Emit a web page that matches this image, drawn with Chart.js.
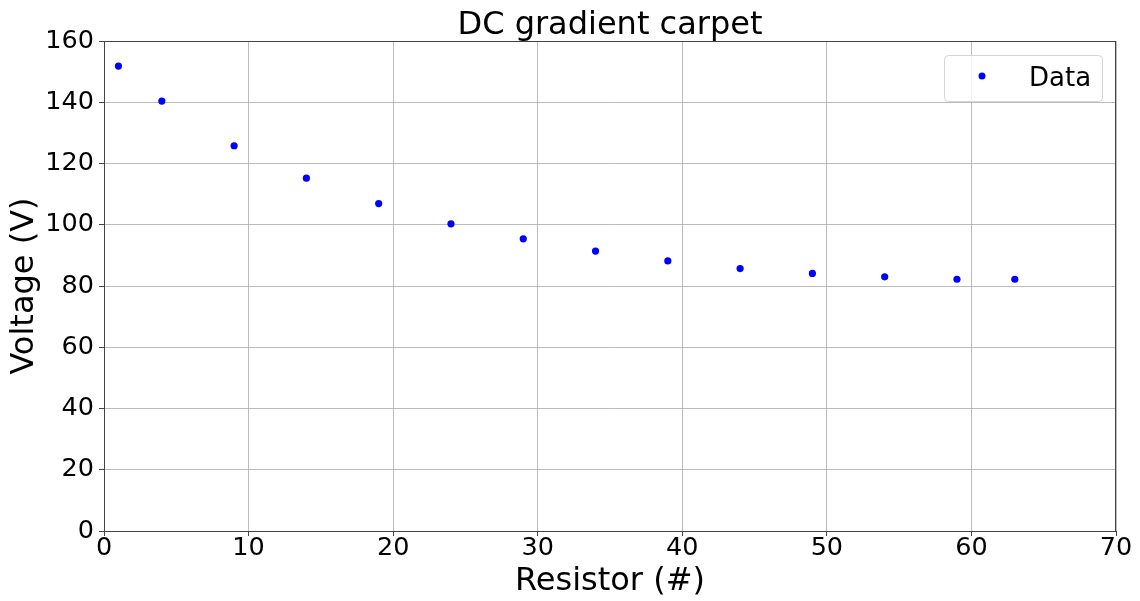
<!DOCTYPE html>
<html>
<head>
<meta charset="utf-8">
<script src="https://cdn.jsdelivr.net/npm/chart.js@4.4.0/dist/chart.umd.min.js"></script>
<style>
  html, body { margin: 0; padding: 0; background: #fff; }
  #wrap { width: 1140px; height: 601px; }
</style>
</head>
<body>
<div id="wrap"><canvas id="carpetChart"></canvas></div>
<script>
// resistor index along the carpet and the measured voltage at each one
const resistors = [1, 4, 9, 14, 19, 24, 29, 34, 39, 44, 49, 54, 59, 63];
const voltages = [151.8, 140.4, 125.8, 115.2, 106.9, 100.3, 95.4, 91.4, 88.2, 85.7, 84.1, 83.0, 82.2, 82.2];
const seriesLabel = 'Data';
const chartTitle = 'DC gradient carpet';

const FONT = 'DejaVu Sans';

// box around the whole plot area (top and right spines too)
const frame = {
  id: 'frame',
  afterDatasetsDraw(chart) {
    const {ctx, chartArea: a} = chart;
    ctx.save();
    ctx.strokeStyle = '#444';
    ctx.lineWidth = 1;
    ctx.strokeRect(a.left + 0.5, a.top + 0.5, a.right - a.left - 1, a.bottom - a.top);
    ctx.restore();
  }
};

// title centred over the plot area rather than the whole canvas
const axesTitle = {
  id: 'axesTitle',
  afterDraw(chart) {
    const {ctx, chartArea: a} = chart;
    ctx.save();
    ctx.fillStyle = '#000';
    ctx.font = '32px "' + FONT + '"';
    ctx.textAlign = 'center';
    ctx.textBaseline = 'alphabetic';
    ctx.fillText(chartTitle, (a.left + a.right) / 2, a.top - 7);
    ctx.restore();
  }
};

// legend box inside the upper right corner of the plot
const innerLegend = {
  id: 'innerLegend',
  afterDraw(chart) {
    const {ctx, chartArea: a} = chart;
    const w = 158, h = 46;
    const x = a.right - 14 - w, y = a.top + 14;
    ctx.save();
    ctx.beginPath();
    ctx.roundRect(x + 0.5, y + 0.5, w, h, 4);
    ctx.fillStyle = 'rgba(255,255,255,0.8)';
    ctx.fill();
    ctx.strokeStyle = '#d4d4d4';
    ctx.lineWidth = 1;
    ctx.stroke();
    ctx.beginPath();
    ctx.arc(x + 38, y + 21, 3.5, 0, Math.PI * 2);
    ctx.fillStyle = '#0000ff';
    ctx.fill();
    ctx.fillStyle = '#000';
    ctx.font = '26px "' + FONT + '"';
    ctx.textBaseline = 'alphabetic';
    ctx.fillText(chart.data.datasets[0].label, x + 85, y + 31);
    ctx.restore();
  }
};

const ctx = document.getElementById('carpetChart').getContext('2d');

new Chart(ctx, {
  type: 'scatter',
  data: {
    datasets: [{
      label: seriesLabel,
      data: resistors.map((r, i) => ({x: r, y: voltages[i]})),
      backgroundColor: '#0000ff',
      borderColor: '#0000ff',
      pointRadius: 3.6,
      pointHoverRadius: 3.6,
      borderWidth: 0
    }]
  },
  options: {
    responsive: true,
    maintainAspectRatio: false,
    animation: false,
    layout: { padding: { left: 0, right: 24, top: 41, bottom: 0 } },
    plugins: {
      legend: { display: false },
      tooltip: { enabled: false },
      title: { display: false }
    },
    scales: {
      x: {
        type: 'linear',
        min: 0,
        max: 70,
        afterFit(scale) { scale.height = 70; },
        ticks: {
          stepSize: 10,
          color: '#000',
          padding: 0,
          font: { family: FONT, size: 25.5, lineHeight: 1 }
        },
        grid: {
          color: 'rgba(176,176,176,0.85)',
          tickColor: '#444',
          tickLength: 5
        },
        border: { color: '#444', width: 1 },
        title: {
          display: true,
          text: 'Resistor (#)',
          color: '#000',
          font: { family: FONT, size: 32, lineHeight: 1.2 },
          padding: { top: 0, bottom: 0 }
        }
      },
      y: {
        min: 0,
        max: 160,
        afterFit(scale) { scale.width = 104; },
        ticks: {
          stepSize: 20,
          color: '#000',
          padding: 5,
          font: { family: FONT, size: 25.5, lineHeight: 1 }
        },
        grid: {
          color: 'rgba(176,176,176,0.85)',
          tickColor: '#444',
          tickLength: 5
        },
        border: { color: '#444', width: 1 },
        title: {
          display: true,
          text: 'Voltage (V)',
          color: '#000',
          font: { family: FONT, size: 32, lineHeight: 1.2 },
          padding: { top: 5, bottom: 0 }
        }
      }
    }
  },
  plugins: [frame, axesTitle, innerLegend]
});
</script>
</body>
</html>
